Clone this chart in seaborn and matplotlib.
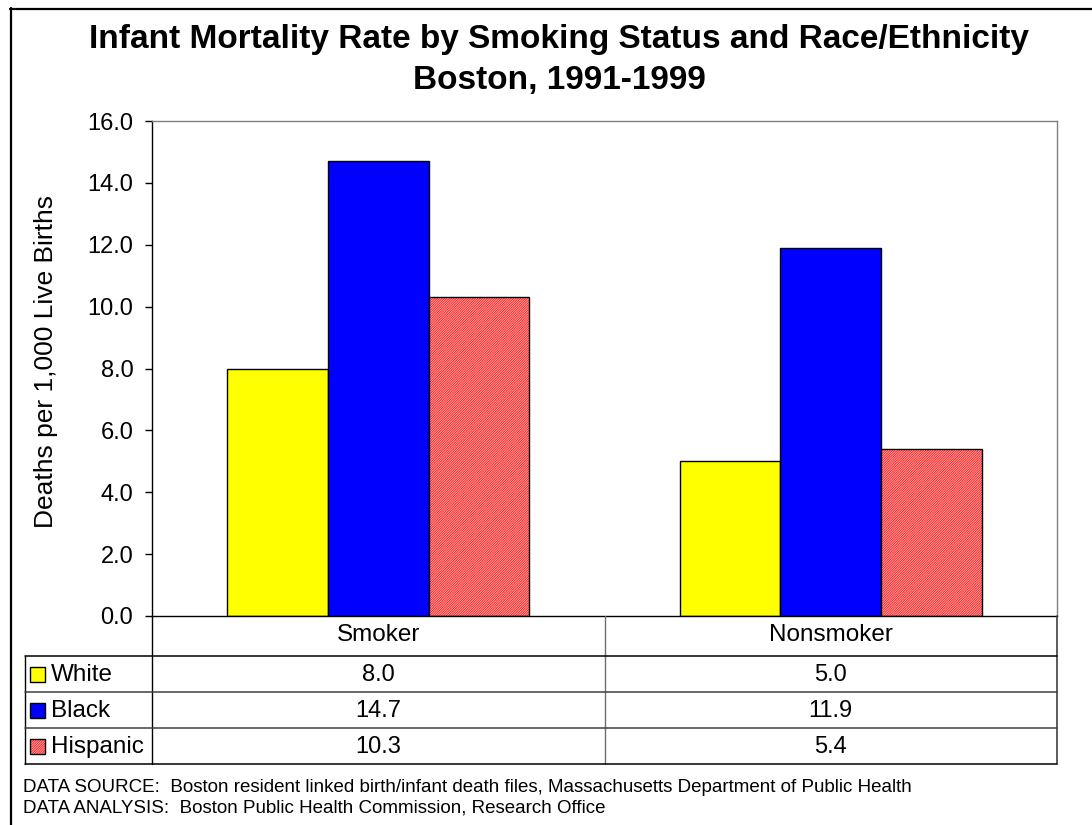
import matplotlib
matplotlib.use("Agg")
import matplotlib.pyplot as plt
from matplotlib.lines import Line2D
from matplotlib.patches import Rectangle
import matplotlib.transforms as mtransforms
import seaborn as sns
import pandas as pd

categories = ["Smoker", "Nonsmoker"]
races = ["White", "Black", "Hispanic"]
white = [8.0, 5.0]
black = [14.7, 11.9]
hispanic = [10.3, 5.4]
yticks = [0.0, 2.0, 4.0, 6.0, 8.0, 10.0, 12.0, 14.0, 16.0]
title_lines = ["Infant Mortality Rate by Smoking Status and Race/Ethnicity", "Boston, 1991-1999"]
ylabel = "Deaths per 1,000 Live Births"
notes = ["DATA SOURCE:  Boston resident linked birth/infant death files, Massachusetts Department of Public Health",
         "DATA ANALYSIS:  Boston Public Health Commission, Research Office"]

colors = {"White": "#FFFF00", "Black": "#0000FF", "Hispanic": "#FFFFFF"}
HATCH = "/" * 14
HATCH_COLOR = "#FF3030"

sns.set_theme(style="white")
plt.rcParams['font.family'] = ['Liberation Sans', 'DejaVu Sans']
plt.rcParams['hatch.linewidth'] = 0.9
for k in ["text.color", "axes.labelcolor", "xtick.color", "ytick.color"]:
    plt.rcParams[k] = "black"

FS = 17

rows = []
for race, vals in zip(races, [white, black, hispanic]):
    for c, v in zip(categories, vals):
        rows.append({"cat": c, "race": race, "val": v})
df = pd.DataFrame(rows)

W, H = 1092, 825
fig = plt.figure(figsize=(W / 100, H / 100), dpi=100)
fig.patch.set_facecolor("white")

def fx(x):
    return x / W

def fy(y):
    return 1 - y / H

ax = fig.add_axes([fx(152), fy(616), fx(1057) - fx(152), fy(121) - fy(616)])
sns.barplot(data=df, x="cat", y="val", hue="race", order=categories, hue_order=races,
            palette=colors, width=2 / 3, gap=0, edgecolor="black", linewidth=1,
            saturation=1, legend=False, ax=ax, errorbar=None)

# hatch for Hispanic
hisp = ax.containers[2]
for p in hisp:
    p.set_facecolor("white")
    p.set_edgecolor(HATCH_COLOR)
    p.set_hatch(HATCH)
    p.set_linewidth(0)
    ax.add_patch(Rectangle(p.get_xy(), p.get_width(), p.get_height(), fill=False,
                           edgecolor="black", linewidth=1, zorder=p.get_zorder() + 0.1))

ax.set_ylim(0, 16)
ax.set_xlim(-0.5, 1.5)
ax.set_yticks(yticks)
ax.set_yticklabels([f"{t:.1f}" for t in yticks], fontsize=FS)
ax.set_xticks([])
ax.set_xlabel("")
ax.set_ylabel(ylabel, fontsize=19)
ax.yaxis.set_label_coords((58 - 152) / 905, (616 - 361) / 495)
ax.tick_params(axis="y", direction="out", length=5, width=1, color="black", pad=8.5, left=True)
for s in ["top", "right"]:
    ax.spines[s].set_color("#808080")
    ax.spines[s].set_linewidth(1)
for s in ["left", "bottom"]:
    ax.spines[s].set_color("black")
    ax.spines[s].set_linewidth(1)
ax.grid(False)

# title
fig.text(fx(559), fy(48), title_lines[0], ha="center", va="baseline", fontsize=24, fontweight="bold")
fig.text(fx(559), fy(89), title_lines[1], ha="center", va="baseline", fontsize=24, fontweight="bold")

# outer border (top and left)
fig.add_artist(Line2D([fx(10), fx(W + 5)], [fy(8.5), fy(8.5)], color="black", lw=1.6))
fig.add_artist(Line2D([fx(10.5), fx(10.5)], [fy(8), fy(H + 5)], color="black", lw=1.6))

# data table
tab_left, col_div, tab_right = 25, 605, 1057
row_y = [616, 656, 692, 728, 764]
inner = "#404040"
fig.add_artist(Line2D([fx(152), fx(152)], [fy(616), fy(764)], color="black", lw=1))
fig.add_artist(Line2D([fx(col_div), fx(col_div)], [fy(616), fy(764)], color="#707070", lw=1))
fig.add_artist(Line2D([fx(tab_right), fx(tab_right)], [fy(616), fy(764)], color="#404040", lw=1.2))
fig.add_artist(Line2D([fx(tab_left), fx(tab_left)], [fy(656), fy(764)], color="black", lw=1))
for i, y in enumerate(row_y[1:]):
    col = "black" if i in (0, 3) else inner
    fig.add_artist(Line2D([fx(tab_left), fx(tab_right)], [fy(y), fy(y)], color=col, lw=1.1))

blend = mtransforms.blended_transform_factory(ax.transData, fig.transFigure)
for j, c in enumerate(categories):
    fig.text(j, fy((row_y[0] + row_y[1]) / 2 - 1), c, transform=blend, ha="center",
             va="center", fontsize=FS + 0.5)
race_vals = [white, black, hispanic]
for i, race in enumerate(races):
    yc = (row_y[i + 1] + row_y[i + 2]) / 2 + 1
    for j in range(len(categories)):
        fig.text(j, fy(yc), f"{race_vals[i][j]:.1f}", transform=blend, ha="center",
                 va="center", fontsize=FS)
    key_xy = (fx(30), fy(yc + 7))
    key = Rectangle(key_xy, fx(15), 15 / H, transform=fig.transFigure,
                    facecolor=colors[race], edgecolor="black", lw=1)
    if race == "Hispanic":
        key.set_facecolor("white")
        key.set_edgecolor(HATCH_COLOR)
        key.set_hatch(HATCH)
        key.set_linewidth(0)
        fig.add_artist(key)
        fig.add_artist(Rectangle(key_xy, fx(15), 15 / H, transform=fig.transFigure,
                                 fill=False, edgecolor="black", lw=1))
    else:
        fig.add_artist(key)
    fig.text(fx(51), fy(yc), race, ha="left", va="center", fontsize=FS + 0.5)

fig.text(fx(23), fy(787), notes[0], ha="left", va="center", fontsize=13.5)
fig.text(fx(23), fy(808), notes[1], ha="left", va="center", fontsize=13.5)

fig.savefig("out.png", dpi=100, facecolor="white")
